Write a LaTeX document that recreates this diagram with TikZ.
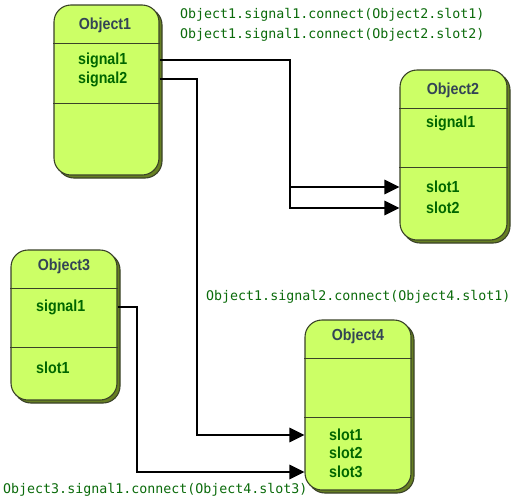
\documentclass[tikz,border=0pt]{standalone}
\usepackage{fontspec}
\setmonofont{DejaVu Sans Mono}
\newfontfamily\boxfont[FakeStretch=0.89]{Liberation Sans}
\usetikzlibrary{arrows.meta,shadows}
\definecolor{objfill}{HTML}{CCFF66}
\definecolor{objshadow}{HTML}{667F22}
\definecolor{objline}{HTML}{3A4228}
\definecolor{titlegray}{HTML}{334455}
\definecolor{itemgreen}{HTML}{006600}
\definecolor{codegreen}{HTML}{0A6A0A}

\begin{document}
\begin{tikzpicture}[x=1pt,y=-1pt]
\tikzstyle{object}=[draw=objline,fill=objfill,rounded corners=17pt,line width=1.1pt,inner sep=0pt,
  copy shadow={shadow xshift=3pt,shadow yshift=-3pt,fill=objshadow,draw=objline}]
\tikzstyle{divider}=[objline,line width=1pt]
\tikzstyle{title}=[font=\boxfont\bfseries\fontsize{16}{18}\selectfont,text=titlegray,inner sep=0pt]
\tikzstyle{item}=[font=\boxfont\bfseries\fontsize{16}{18}\selectfont,text=itemgreen,anchor=west,inner sep=0pt]
\tikzstyle{code}=[font=\ttfamily\fontsize{13.3}{16}\selectfont,text=codegreen,anchor=west,inner sep=0pt]
\tikzstyle{wire}=[line width=2.8pt,-{Triangle[length=15pt,width=14pt]}]
\useasboundingbox (0,0) rectangle (516,501);
% the four objects
\node[object,minimum width=105pt,minimum height=170pt] (obj1) at (106.5,90) {};
\node[object,minimum width=107pt,minimum height=170pt] (obj2) at (453.5,155) {};
\node[object,minimum width=106pt,minimum height=150pt] (obj3) at (64,325) {};
\node[object,minimum width=106pt,minimum height=170pt] (obj4) at (358,405) {};
\draw[divider] (obj1.west |- 0,43) -- (obj1.east |- 0,43);
\draw[divider] (obj1.west |- 0,103) -- (obj1.east |- 0,103);
\draw[divider] (obj2.west |- 0,108) -- (obj2.east |- 0,108);
\draw[divider] (obj2.west |- 0,167) -- (obj2.east |- 0,167);
\draw[divider] (obj3.west |- 0,288) -- (obj3.east |- 0,288);
\draw[divider] (obj3.west |- 0,347) -- (obj3.east |- 0,347);
\draw[divider] (obj4.west |- 0,358) -- (obj4.east |- 0,358);
\draw[divider] (obj4.west |- 0,417) -- (obj4.east |- 0,417);
% titles and members
\node[title] (o1title) at (105,25) {Object1};
\node[item] (o1sig1) at (78,60) {signal1};
\node[item] (o1sig2) at (78,79) {signal2};
\node[title] (o2title) at (453,90) {Object2};
\node[item] (o2sig1) at (426,123) {signal1};
\node[item] (o2slot1) at (426,187) {slot1};
\node[item] (o2slot2) at (426,208) {slot2};
\node[title] (o3title) at (64,266) {Object3};
\node[item] (o3sig1) at (36,307) {signal1};
\node[item] (o3slot1) at (36,368) {slot1};
\node[title] (o4title) at (358,336) {Object4};
\node[item] (o4slot1) at (329,435) {slot1};
\node[item] (o4slot2) at (329,453) {slot2};
\node[item] (o4slot3) at (329,472) {slot3};
% connections
\coordinate (fork1) at (290,60);
\coordinate (fork2) at (197,79);
\coordinate (fork3) at (137,307);
\draw[wire] (obj1.east |- o1sig1) -- (fork1) |- (obj2.west |- o2slot1);
\draw[wire] (fork1) |- (obj2.west |- o2slot2);
\draw[wire] (obj1.east |- o1sig2) -- (fork2) |- (obj4.west |- o4slot1);
\draw[wire] (obj3.east |- o3sig1) -- (fork3) |- (obj4.west |- o4slot3);
\node[code] (c1) at (180,15) {Object1.signal1.connect(Object2.slot1)};
\node[code] (c2) at (180,35) {Object1.signal1.connect(Object2.slot2)};
\node[code] (c3) at (206,297) {Object1.signal2.connect(Object4.slot1)};
\node[code] (c4) at (3,490) {Object3.signal1.connect(Object4.slot3)};
\end{tikzpicture}
\end{document}
